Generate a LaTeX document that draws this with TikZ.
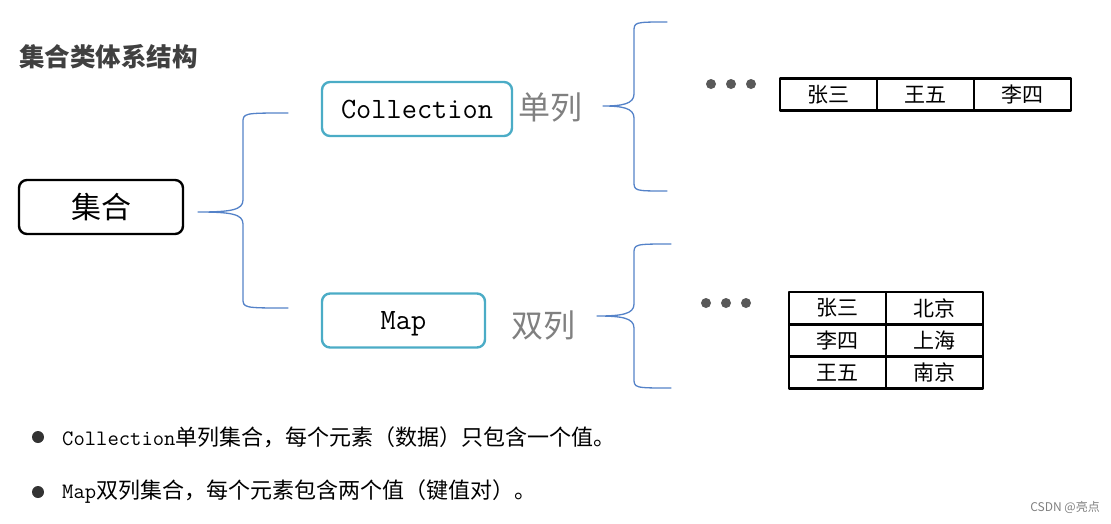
\documentclass[tikz,border=0pt]{standalone}
\usepackage{fontspec}
\newfontfamily\cjk{Noto Sans CJK SC}
\definecolor{braceblue}{RGB}{84,130,200}
\definecolor{boxcyan}{RGB}{75,172,198}
\definecolor{labelgray}{RGB}{128,128,128}
\definecolor{dotgray}{RGB}{89,89,89}
\newcommand{\fsz}[1]{\fontsize{#1}{#1}\selectfont}
% #1,#2 tip; #3 spine x; #4 top y; #5 bottom y; #6 end x
\newcommand{\curlybrace}[6]{%
	\draw[brace] (#6,#4) .. controls (#3,#4) .. (#3,#4+10) -- (#3,#2-12)
		.. controls (#3,#2-2) and (#3-12,#2) .. (#1,#2)
		.. controls (#3-12,#2) and (#3,#2+2) .. (#3,#2+12) -- (#3,#5-10)
		.. controls (#3,#5) .. (#6,#5);}
\begin{document}
\begin{tikzpicture}[x=1pt,y=-1pt, line join=round, line cap=round,
	brace/.style={draw=braceblue,line width=1.3pt},
	rootbox/.style={draw,line width=2.4pt,rounded corners=8pt,minimum width=164pt,minimum height=54pt,font=\cjk\fsz{30}},
	kindbox/.style={draw=boxcyan,line width=2.4pt,rounded corners=8pt,minimum height=54pt,text depth=0pt,font=\ttfamily\fsz{29.5}},
	kindlabel/.style={text=labelgray,inner sep=0pt,font=\cjk\fsz{32}},
	cell/.style={draw,line width=2.4pt,minimum width=97pt,minimum height=32pt,inner sep=0pt,font=\cjk\fsz{21}},
	ellipsisdot/.style={circle,fill=dotgray,inner sep=0pt,minimum size=10pt},
	bullet/.style={circle,fill=black!80,inner sep=0pt,minimum size=12pt},
	note/.style={anchor=west,inner sep=0pt}]
	\useasboundingbox (0,0) rectangle (1111,523);
	\node[anchor=west,inner sep=0pt,text=black!75,font=\cjk\bfseries\fsz{25.5}] (title) at (19,57) {集合类体系结构};
	\node[rootbox] (root) at (101,207) {集合};
	\node[kindbox,minimum width=190pt] (coll) at (417,109) {Collection};
	\node[kindbox,minimum width=163pt] (map) at (403.5,320.5) {Map};
	\node[kindlabel] (single) at (550,107) {单列};
	\node[kindlabel] (double) at (543,325) {双列};
	% braces
	\curlybrace{198}{212}{243}{113}{308}{288}
	\curlybrace{603}{106}{634}{22}{191}{667}
	\curlybrace{597}{316}{634}{244}{388}{671}
	% dots
	\foreach \x [count=\i] in {711,731,751} \node[ellipsisdot] (tdot\i) at (\x,84) {};
	\foreach \x [count=\i] in {706,726,746} \node[ellipsisdot] (bdot\i) at (\x,303) {};
	% single column table
	\foreach \who [count=\i] in {张三,王五,李四}
		\node[cell] (top\i) at ({780+97*\i-48.5},94.5) {\who};
	% double column table
	\foreach \who/\city [count=\i] in {张三/北京,李四/上海,王五/南京} {
		\node[cell] (key\i) at (837.5,{308+32.3*(\i-1)}) {\who};
		\node[cell] (val\i) at (934.5,{308+32.3*(\i-1)}) {\city};
	}
	% notes
	\node[bullet] (b1) at (38,437) {};
	\node[note] (n1) at (62,437) {{\ttfamily\fsz{22}Collection}{\cjk\fsz{22}单列集合，每个元素（数据）只包含一个值。}};
	\node[bullet] (b2) at (38,492) {};
	\node[note] (n2) at (62,492) {{\ttfamily\fsz{22}Map}{\cjk\fsz{22}双列集合，每个元素包含两个值（键值对）。}};
	\node[anchor=east,inner sep=0pt,text=labelgray,font=\cjk\fsz{12}] (mark) at (1100,507) {CSDN @亮点};
\end{tikzpicture}
\end{document}
